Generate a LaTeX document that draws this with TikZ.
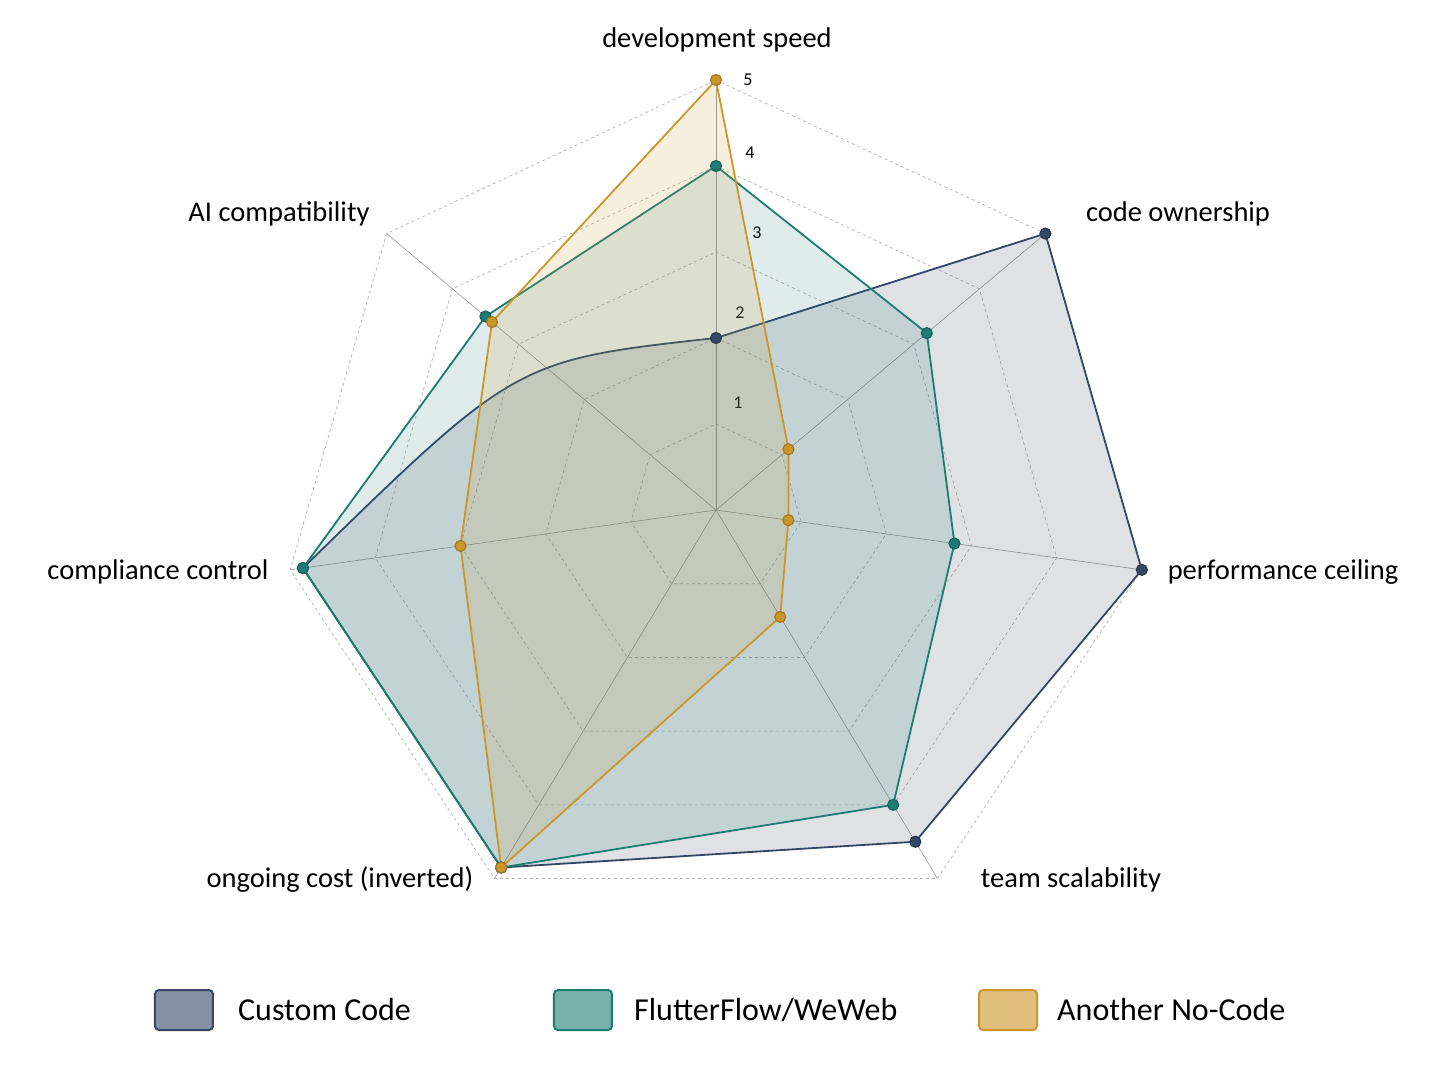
\documentclass[tikz,border=0pt]{standalone}
\usepackage{fontspec}
\setmainfont{Carlito}
\usepackage{tikz}
\usetikzlibrary{arrows.meta}
\definecolor{customc}{RGB}{52,72,102}
\definecolor{flutterc}{RGB}{30,125,115}
\definecolor{nocodec}{RGB}{205,150,40}
\tikzset{
  gridring/.style={draw=black!30, dashed, line width=0.7pt},
  spoke/.style={draw=black!40, line width=0.6pt},
  axislabel/.style={font=\fontsize{28.5}{32}\selectfont, inner sep=0pt},
  ticklabel/.style={font=\fontsize{18}{20}\selectfont, inner sep=0pt},
  dot/.style={circle, draw=#1!80!black, fill=#1, line width=1.2pt, minimum size=11pt, inner sep=0pt},
  legendbox/.style={draw=#1, fill=#1!60, line width=2pt, rounded corners=4pt, minimum width=58pt, minimum height=40pt},
  legendtext/.style={font=\fontsize{32}{36}\selectfont, anchor=west, inner sep=0pt}
}

\begin{document}
\begin{tikzpicture}[x=1pt,y=1pt]
\useasboundingbox (-716,-576) rectangle (732,510);
\fill[white] (-716,-576) rectangle (732,510);

% grid rings and spokes
\foreach \r in {1,...,5}
  \draw[gridring] (90:\r*86) -- (40:\r*86) -- (-8:\r*86) -- (-59:\r*86) -- (-121:\r*86) -- (-172:\r*86) -- (140:\r*86) -- cycle;
\foreach \a in {90,40,-8,-59,-121,-172,140}
  \draw[spoke] (0,0) -- (\a:430);

% tick labels
\node[ticklabel] (t5) at (32,430) {5};
\node[ticklabel] (t4) at (34,357) {4};
\node[ticklabel] (t3) at (41,277) {3};
\node[ticklabel] (t2) at (24,197) {2};
\node[ticklabel] (t1) at (22,107) {1};

% Custom Code
\foreach \a/\v [count=\i] in {90/2,40/5,-8/5,-59/4.5,-121/4.85,-172/4.85}
  \coordinate (cc\i) at (\a:\v*86);
\fill[customc, opacity=0.16] (cc1) -- (cc2) -- (cc3) -- (cc4) -- (cc5) -- (cc6) .. controls (-200,150) .. (cc1) -- cycle;
\draw[customc, line width=1.8pt] (cc1) -- (cc2) -- (cc3) -- (cc4) -- (cc5) -- (cc6) .. controls (-200,150) .. (cc1);

% FlutterFlow/WeWeb
\foreach \a/\v [count=\i] in {90/4,40/3.2,-8/2.8,-59/4,-121/4.85,-172/4.85,140/3.5}
  \coordinate (ff\i) at (\a:\v*86);
\filldraw[draw=flutterc, fill=flutterc, fill opacity=0.14, line width=1.8pt] (ff1) -- (ff2) -- (ff3) -- (ff4) -- (ff5) -- (ff6) -- (ff7) -- cycle;

% Another No-Code
\foreach \a/\v [count=\i] in {90/5,40/1.1,-8/0.85,-59/1.45,-121/4.85,-172/3,140/3.4}
  \coordinate (nc\i) at (\a:\v*86);
\filldraw[draw=nocodec, fill=nocodec, fill opacity=0.15, line width=1.8pt] (nc1) -- (nc2) -- (nc3) -- (nc4) -- (nc5) -- (nc6) -- (nc7) -- cycle;

% markers
\foreach \i in {1,...,6} \node[dot=customc] (mc\i) at (cc\i) {};
\foreach \i in {1,...,7} \node[dot=flutterc] (mf\i) at (ff\i) {};
\foreach \i in {1,...,7} \node[dot=nocodec] (mn\i) at (nc\i) {};

% axis labels
\node[axislabel] (speed) at (1,470) {development speed};
\node[axislabel] (owner) at (462,296) {code ownership};
\node[axislabel] (perf) at (567,-62) {performance ceiling};
\node[axislabel] (team) at (355,-370) {team scalability};
\node[axislabel] (cost) at (-376,-370) {ongoing cost (inverted)};
\node[axislabel] (compl) at (-558,-62) {compliance control};
\node[axislabel] (ai) at (-437,296) {AI compatibility};

% legend
\node[legendbox=customc] (lb1) at (-532,-500) {};
\node[legendtext] (lt1) at ([xshift=24pt]lb1.east) {Custom Code};
\node[legendbox=flutterc] (lb2) at (-133,-500) {};
\node[legendtext] (lt2) at ([xshift=21pt]lb2.east) {FlutterFlow/WeWeb};
\node[legendbox=nocodec] (lb3) at (292,-500) {};
\node[legendtext] (lt3) at ([xshift=19pt]lb3.east) {Another No-Code};
\end{tikzpicture}
\end{document}
